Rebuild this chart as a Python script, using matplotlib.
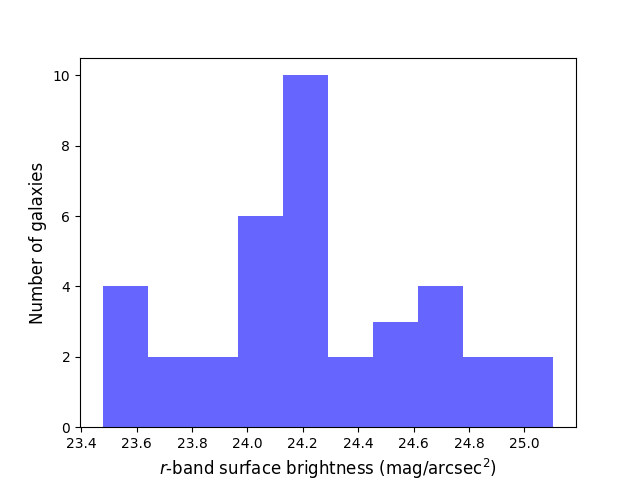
import numpy as np
import matplotlib
matplotlib.use("Agg")
import matplotlib.pyplot as plt

# Histogram of r-band surface brightness
bin_edges = np.linspace(23.477, 25.105, 11)
counts = [4, 2, 2, 6, 10, 2, 3, 4, 2, 2]

x_label = r"$r$-band surface brightness (mag/arcsec$^2$)"
y_label = "Number of galaxies"

fig, ax = plt.subplots(figsize=(6.4, 4.8), dpi=100)
ax.hist(bin_edges[:-1], bins=bin_edges, weights=counts, color='blue', alpha=0.6)

ax.set_xlabel(x_label, fontsize=12)
ax.set_ylabel(y_label, fontsize=12)

fig.savefig("out.png", dpi=100)
